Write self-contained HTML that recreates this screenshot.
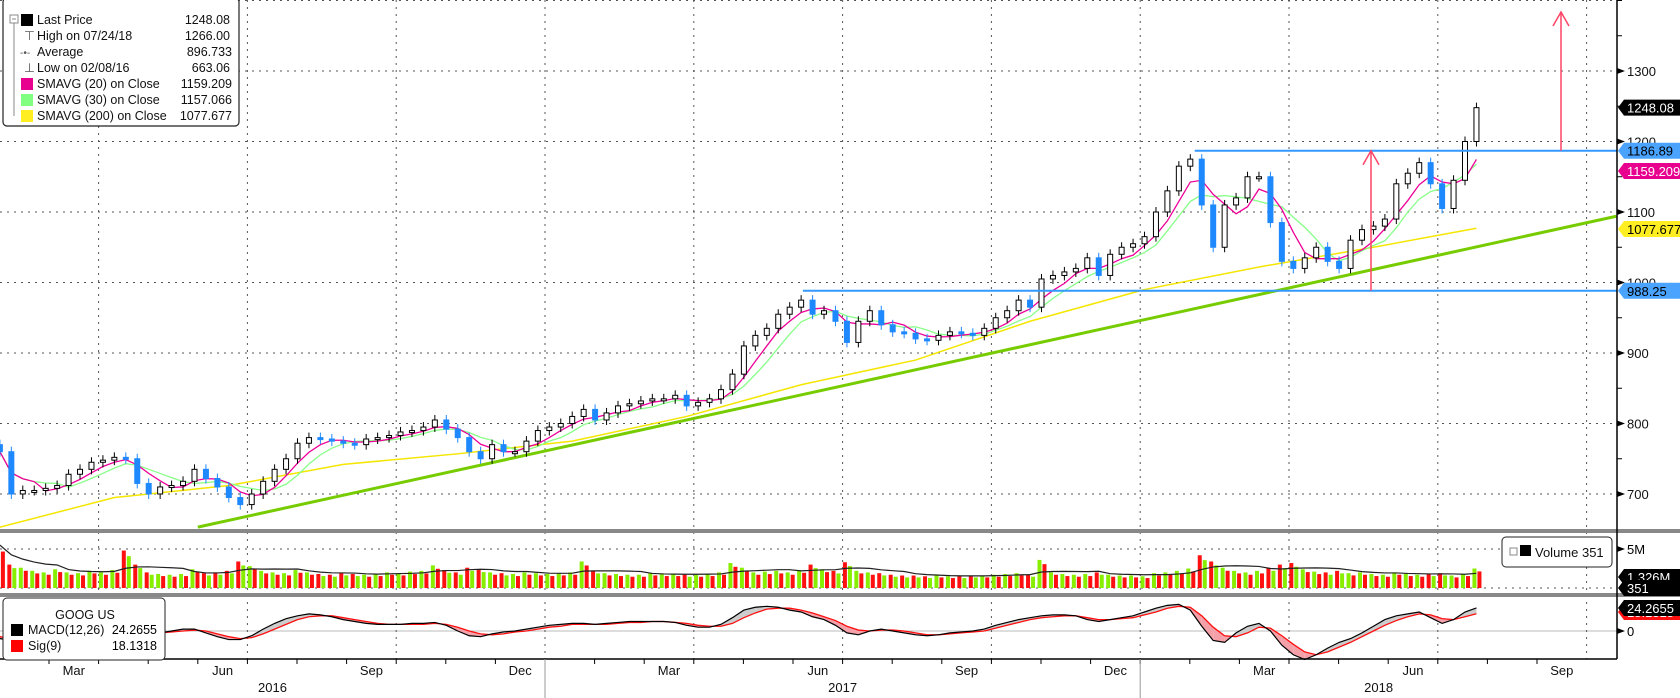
<!DOCTYPE html>
<html><head><meta charset="utf-8"><style>
html,body{margin:0;padding:0;background:#fff;}
svg{display:block;font-family:"Liberation Sans",sans-serif;}
</style></head><body>
<svg id="chart" width="1680" height="698" viewBox="0 0 1680 698" xmlns="http://www.w3.org/2000/svg">
<g id="grid"></g>
<g id="main"></g>
<g id="vol"></g>
<g id="macd"></g>
<g id="axes"></g>
<g id="legends">
  <rect x="3" y="-2" width="236" height="128" rx="4" fill="#fff" stroke="#222" stroke-width="1.2"/>
  <g font-size="12.5" fill="#111">
    <rect x="10" y="15" width="8" height="8" fill="none" stroke="#888"/><line x1="12" y1="19" x2="16" y2="19" stroke="#888"/>
    <line x1="14" y1="23" x2="14" y2="116" stroke="#888"/>
    <rect x="21" y="14" width="12" height="12" fill="#000"/>
    <text x="37" y="24">Last Price</text><text x="230" y="24" text-anchor="end">1248.08</text>
    <text x="24" y="40" fill="#555">⊤</text><text x="37" y="40">High on 07/24/18</text><text x="230" y="40" text-anchor="end">1266.00</text>
    <text x="20" y="56" fill="#555" font-size="10">-•-</text><text x="37" y="56">Average</text><text x="232" y="56" text-anchor="end">896.733</text>
    <text x="24" y="72" fill="#555">⊥</text><text x="37" y="72">Low on 02/08/16</text><text x="230" y="72" text-anchor="end">663.06</text>
    <rect x="21" y="78" width="12" height="12" fill="#e8008f"/><text x="37" y="88">SMAVG (20) on Close</text><text x="232" y="88" text-anchor="end">1159.209</text>
    <rect x="21" y="94" width="12" height="12" fill="#80ff80"/><text x="37" y="104">SMAVG (30) on Close</text><text x="232" y="104" text-anchor="end">1157.066</text>
    <rect x="21" y="110" width="12" height="12" fill="#ffee22"/><text x="37" y="120">SMAVG (200) on Close</text><text x="232" y="120" text-anchor="end">1077.677</text>
  </g>
  <rect x="1502" y="537" width="110" height="30" rx="4" fill="#fff" stroke="#222"/>
  <rect x="1510" y="548" width="7" height="7" fill="none" stroke="#888"/>
  <rect x="1520" y="545" width="11" height="11" fill="#000"/>
  <text x="1535" y="557" font-size="13" fill="#111">Volume  351</text>
  <rect x="3" y="598" width="162" height="62" rx="4" fill="#fff" stroke="#222"/>
  <text x="85" y="619" font-size="12.5" text-anchor="middle" fill="#111">GOOG US</text>
  <rect x="11" y="624" width="12" height="12" fill="#000"/>
  <text x="28" y="634" font-size="12.5" fill="#111">MACD(12,26)</text><text x="157" y="634" font-size="12.5" text-anchor="end">24.2655</text>
  <rect x="11" y="640" width="12" height="12" fill="#f00"/>
  <text x="28" y="650" font-size="12.5" fill="#111">Sig(9)</text><text x="157" y="650" font-size="12.5" text-anchor="end">18.1318</text>
</g>
</svg>
<script>
const closes=[760,700,705,705,708,712,728,735,745,748,752,750,715,700,710,712,718,735,722,710,695,685,700,718,735,750,772,780,778,775,772,770,778,780,783,788,790,795,805,792,780,760,750,770,760,760,775,790,795,800,810,820,805,815,825,828,832,835,835,840,825,830,835,848,870,910,925,935,955,965,975,955,960,945,915,945,960,940,930,928,920,918,925,930,928,925,935,950,960,975,965,1005,1010,1015,1020,1035,1010,1040,1050,1055,1065,1100,1130,1165,1175,1110,1050,1110,1120,1150,1150,1085,1030,1020,1035,1050,1030,1020,1060,1075,1080,1090,1140,1155,1170,1140,1105,1145,1200,1248];
const sma200Idx=[0,10,20,30,40,50,60,70,80,90,100,110,120,129];
const sma200Val=[653,695,712,742,757,775,810,855,890,945,990,1022,1050,1077];
const volumes=[5.5,3.0,2.6,2.2,2.0,2.4,2.0,1.9,2.2,2.0,2.3,4.8,3.0,2.0,1.8,1.7,1.8,2.4,1.9,2.0,2.2,3.4,2.8,2.2,2.0,1.9,2.3,2.0,1.8,1.7,1.9,1.8,1.7,1.8,2.0,1.9,2.1,2.2,2.9,2.3,2.0,2.6,2.4,2.0,1.9,1.8,2.0,1.9,1.8,1.9,2.0,3.4,2.2,1.9,1.8,1.7,1.7,1.9,1.8,1.8,1.7,1.7,1.8,2.0,3.2,2.6,2.0,2.1,2.2,2.0,2.3,3.0,2.4,2.2,3.3,2.2,2.0,1.9,1.7,1.6,1.6,1.5,1.6,1.5,1.5,1.6,1.6,1.7,1.8,1.9,1.7,3.6,2.0,1.8,1.7,1.8,2.0,1.7,1.6,1.6,1.5,1.9,2.0,2.2,2.5,4.2,3.4,2.6,2.2,2.0,2.2,2.6,3.0,3.2,2.4,2.1,2.0,2.2,1.9,2.0,1.8,1.7,2.0,1.8,1.7,1.8,1.9,1.6,1.8,2.5];
const macdVals=[-8,-10,-6,-2,2,5,6,7,8,8,7,3,-2,-3,-2,0,2,2,-2,-6,-9,-9,-5,2,8,13,16,18,17,15,12,10,8,7,7,7,8,8,9,6,0,-5,-6,-3,-1,0,2,4,6,7,8,8,7,8,9,10,10,10,10,9,6,4,4,7,14,22,25,26,25,22,20,15,12,6,-2,-4,0,2,0,-2,-4,-5,-4,-2,-1,0,2,6,9,12,14,16,17,17,16,12,10,12,14,16,20,24,27,28,22,5,-10,-12,-2,5,8,0,-15,-25,-30,-25,-18,-12,-8,-2,5,12,16,18,20,14,8,12,20,24.27];
const sigVals=[-6,-8,-8,-6,-2,1,4,6,7,7,7,6,3,0,-2,-1,0,1,0,-3,-6,-8,-7,-3,2,7,12,15,16,16,14,12,10,8,7,7,7,7,8,7,4,0,-3,-4,-3,-1,0,2,4,5,7,7,7,7,8,9,9,10,10,9,8,6,5,5,8,14,19,23,24,24,22,19,15,11,5,1,0,1,1,0,-2,-4,-4,-3,-2,-1,0,3,6,9,12,14,15,16,16,14,12,12,13,14,17,20,24,26,25,16,4,-5,-6,-2,4,3,-5,-14,-22,-25,-22,-17,-12,-6,0,6,11,15,18,17,13,12,15,18.13];
const priceTicks=[700,800,900,1000,1100,1200,1300];
const monthLabels=["Mar","Jun","Sep","Dec","Mar","Jun","Sep","Dec","Mar","Jun","Sep"];
const monthLabelT=[2,5,8,11,14,17,20,23,26,29,32];
const yearLabels=["2016","2017","2018"];
const trendT=[5.0,33.6];const trendP=[653,1094];
const levelP=[988.25,1186.89];const levelT=[17.2,25.1];

const NS="http://www.w3.org/2000/svg";
function X(t){return 545+(t-12)*49.6;}
function XI(i){return X(1.01+i*12/52);}
function YP(p){return 494-(p-700)*0.705;}
function YV(v){return 588-v*7.8;}
function YM(m){return 631-m*0.95;}
function mk(tag,attrs,parent){const e=document.createElementNS(NS,tag);for(const k in attrs)e.setAttribute(k,attrs[k]);parent.appendChild(e);return e;}
const grid=document.getElementById('grid'),main=document.getElementById('main'),vol=document.getElementById('vol'),mac=document.getElementById('macd'),axes=document.getElementById('axes');

for(const p of priceTicks.concat([1400])){const l=mk('line',{x1:0,x2:1617,y1:YP(p),y2:YP(p),stroke:'#555','stroke-dasharray':'2,5','stroke-width':1},grid);

}
mk('line',{x1:0,x2:1617,y1:YV(5),y2:YV(5),stroke:'#555','stroke-dasharray':'2,5'},grid);
mk('line',{x1:0,x2:1617,y1:588,y2:588,stroke:'#555','stroke-dasharray':'2,5'},grid);
mk('line',{x1:0,x2:1617,y1:631,y2:631,stroke:'#bbb','stroke-width':1},grid);
for(let t=3;t<=33;t+=3){const x=X(t);if(x>1617)break;const l=mk('line',{x1:x,x2:x,y1:0,y2:659,stroke:'#555','stroke-dasharray':'2,5'},grid);

}

let pts=sma200Idx.map((k,j)=>XI(k)+','+YP(sma200Val[j])).join(' ');
let e=mk('polyline',{points:pts,fill:'none',stroke:'#f5e600','stroke-width':1.5},main);


e=mk('line',{x1:X(trendT[0]),y1:YP(trendP[0]),x2:X(trendT[1]),y2:YP(trendP[1]),stroke:'#77cc00','stroke-width':3},main);


function sma(w){return closes.map((c,i)=>{const s=closes.slice(Math.max(0,i-w+1),i+1);return s.reduce((a,b)=>a+b,0)/s.length;});}
const s30=sma(6),s20=sma(4);
e=mk('polyline',{points:s30.map((v,i)=>XI(i)+','+YP(v)).join(' '),fill:'none',stroke:'#88ff88','stroke-width':1.3},main);


e=mk('polyline',{points:s20.map((v,i)=>XI(i)+','+YP(v)).join(' '),fill:'none',stroke:'#ee0099','stroke-width':1.3},main);


closes.forEach((c,i)=>{const o=i?closes[i-1]:c+10;const x=XI(i);const top=YP(Math.max(o,c)),bot=YP(Math.min(o,c));
const up=c>=o;
mk('line',{x1:x,x2:x,y1:top-5,y2:bot+5,stroke:up?'#000':'#1e88ff','stroke-width':1},main);
const r=mk('rect',{x:x-2.5,y:top,width:5,height:Math.max(2,bot-top),fill:up?'#fff':'#1e88ff',stroke:up?'#000':'#1e88ff','stroke-width':1},main);

});
levelP.forEach((p,j)=>{const l=mk('line',{x1:X(levelT[j]),x2:1617,y1:YP(p),y2:YP(p),stroke:'#3399ff','stroke-width':2},main);

});
function arrow(x,y1,y2){const g=mk('g',{stroke:'#ff4466','stroke-width':1.5,fill:'none'},main);


mk('line',{x1:x,x2:x,y1:y1,y2:y2},g);mk('polyline',{points:(x-8)+','+(y2+14)+' '+x+','+y2+' '+(x+8)+','+(y2+14)},g);}
arrow(1371,YP(988.25),YP(1186.89));
arrow(1561,YP(1186.89),12);

volumes.forEach((v,i)=>{const up=i==0||closes[i]>=closes[i-1];const x=XI(i);
const r=mk('rect',{x:x-4,y:YV(v),width:4,height:588-YV(v),fill:up?'#88ee00':'#ff1010'},vol);


const r2=mk('rect',{x:x+1,y:YV(v*0.85),width:4,height:588-YV(v*0.85),fill:up?'#ff1010':'#88ee00'},vol);

});
const vma=volumes.map((v,i)=>{const s=volumes.slice(Math.max(0,i-5),i+1);return s.reduce((a,b)=>a+b,0)/s.length;});
e=mk('polyline',{points:vma.map((v,i)=>XI(i)+','+YV(v)).join(' '),fill:'none',stroke:'#222','stroke-width':1.2},vol);



for(let i=0;i<macdVals.length-1;i++){const above=(macdVals[i]+macdVals[i+1])>=(sigVals[i]+sigVals[i+1]);
mk('polygon',{points:[XI(i)+','+YM(macdVals[i]),XI(i+1)+','+YM(macdVals[i+1]),XI(i+1)+','+YM(sigVals[i+1]),XI(i)+','+YM(sigVals[i])].join(' '),fill:above?'#cccccc':'#f4a0a8'},mac);}
e=mk('polyline',{points:sigVals.map((v,i)=>XI(i)+','+YM(v)).join(' '),fill:'none',stroke:'#ff1010','stroke-width':1.3},mac);


e=mk('polyline',{points:macdVals.map((v,i)=>XI(i)+','+YM(v)).join(' '),fill:'none',stroke:'#000','stroke-width':1.2},mac);



mk('rect',{x:0,y:529,width:1680,height:4,fill:'#888'},axes);
mk('rect',{x:0,y:593,width:1680,height:4,fill:'#888'},axes);
mk('line',{x1:1617,x2:1617,y1:0,y2:659,stroke:'#000','stroke-width':1.5},axes);
mk('line',{x1:0,x2:1617,y1:659,y2:659,stroke:'#000','stroke-width':1.5},axes);
for(let p=700;p<=1400;p+=50){const y=YP(p);mk('line',{x1:1617,x2:1622,y1:y,y2:y,stroke:'#000'},axes);}
priceTicks.forEach(p=>{const y=YP(p);mk('polygon',{points:'1617,'+(y-3)+' 1625,'+y+' 1617,'+(y+3)},axes);
const t=mk('text',{x:1627,y:y+5,'font-size':13,fill:'#111'},axes);t.textContent=p;

});
function tag(y,txt,bg,fg,name){const g=mk('g',{},axes);


mk('polygon',{points:'1618,'+y+' 1624,'+(y-8)+' 1680,'+(y-8)+' 1680,'+(y+8)+' 1624,'+(y+8),fill:bg},g);
const t=mk('text',{x:1627,y:y+5,'font-size':13,fill:fg},g);t.textContent=txt;}
tag(YP(1248.08),'1248.08','#000','#fff','last-price-tag');
tag(YP(1186.89),'1186.89','#4aa3ff','#000','resistance-high-tag');
tag(171,'1159.209','#e8008f','#fff','sma20-tag');
tag(229,'1077.677','#ffee22','#000','sma200-tag');
tag(YP(988.25),'988.25','#4aa3ff','#000','support-tag');
mk('polygon',{points:'1617,546 1625,549 1617,552'},axes);
let t5=mk('text',{x:1627,y:554,'font-size':13},axes);t5.textContent='5M';
tag(577,'1.326M','#000','#fff','volume-average-tag');
tag(588,'351','#000','#fff','volume-tag');
tag(612,'18.1318','#ff1010','#fff','signal-tag');
tag(608,'24.2655','#000','#fff','macd-tag');
mk('polygon',{points:'1617,628 1625,631 1617,634'},axes);
let t0=mk('text',{x:1627,y:636,'font-size':13},axes);t0.textContent='0';
for(let t=2;t<=32;t++){const x=X(t);if(x>1617)break;mk('line',{x1:x,x2:x,y1:659,y2:664,stroke:'#000'},axes);}
monthLabels.forEach((m,j)=>{const t=mk('text',{x:X(monthLabelT[j]+0.5),y:675,'font-size':13,'text-anchor':'middle',fill:'#111'},axes);t.textContent=m;

});
[X(12),X(24)].forEach(x=>mk('line',{x1:x,x2:x,y1:659,y2:698,stroke:'#999'},axes));
const yx=[(0+X(12))/2,(X(12)+X(24))/2,(X(24)+1617)/2];
yearLabels.forEach((y,j)=>{const t=mk('text',{x:yx[j],y:692,'font-size':13,'text-anchor':'middle',fill:'#111'},axes);t.textContent=y;

});
</script>
</body></html>
